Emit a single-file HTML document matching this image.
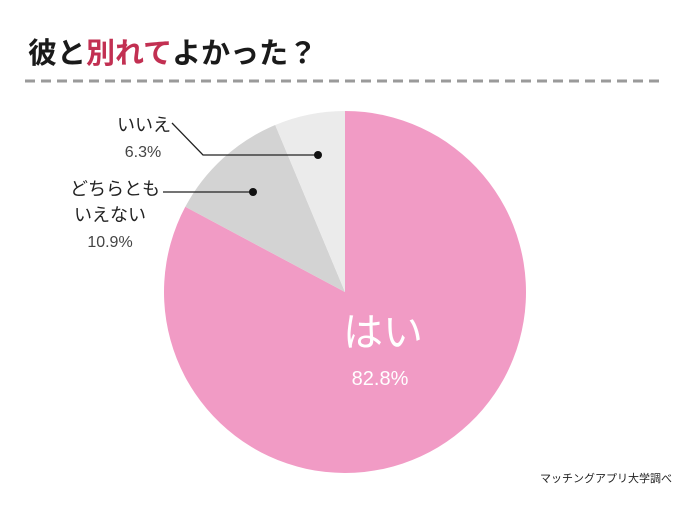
<!DOCTYPE html>
<html><head><meta charset="utf-8"><style>
body{margin:0;background:#fff;}
svg text{font-family:"Liberation Sans","Noto Sans CJK JP",sans-serif;}
</style></head><body>
<svg width="690" height="502" viewBox="0 0 690 502">
<text x="28" y="63" font-size="29" font-weight="bold" fill="#1a1a1a">彼と<tspan fill="#c23052">別れて</tspan>よかった？</text>
<line x1="25" y1="81" x2="665" y2="81" stroke="#9a9a9a" stroke-width="3" stroke-dasharray="10,6"/>
<g id="slices"></g>
<g>
<text x="171" y="131" font-size="18" text-anchor="end" fill="#222">いいえ</text>
<text x="143" y="157" font-size="16" text-anchor="middle" fill="#444">6.3%</text>
<polyline points="172,123 203,155 318,155" fill="none" stroke="#222" stroke-width="1.3"/>
<circle cx="318" cy="155" r="4" fill="#111"/>
</g>
<g>
<text x="160" y="195" font-size="18" text-anchor="end" fill="#222">どちらとも</text>
<text x="110" y="221" font-size="18" text-anchor="middle" fill="#222">いえない</text>
<text x="110" y="247" font-size="16" text-anchor="middle" fill="#444">10.9%</text>
<line x1="163" y1="192" x2="253" y2="192" stroke="#222" stroke-width="1.3"/>
<circle cx="253" cy="192" r="4" fill="#111"/>
</g>
<g>
<text x="383" y="346" font-size="40" text-anchor="middle" fill="#fff">はい</text>
<text x="380" y="385" font-size="20" text-anchor="middle" fill="#fff">82.8%</text>
</g>
<text x="672" y="482" font-size="11" text-anchor="end" fill="#222">マッチングアプリ大学調べ</text>
</svg>
<script>
const categories=["はい","どちらともいえない","いいえ"];
const values=[82.8,10.9,6.3];
const colors=["#f19bc5","#d3d3d3","#ebebeb"];
const cx=345,cy=292,r=181;
const g=document.getElementById('slices');
const total=values.reduce((a,b)=>a+b,0);
let a0=0;
function pt(a){return [cx+r*Math.sin(a),cy-r*Math.cos(a)];}
values.forEach((v,i)=>{
  const a1=a0+v/total*2*Math.PI;
  const p0=pt(a0),p1=pt(a1);
  const large=(a1-a0)>Math.PI?1:0;
  const p=document.createElementNS('http://www.w3.org/2000/svg','path');
  p.setAttribute('d',`M${cx},${cy}L${p0[0]},${p0[1]}A${r},${r} 0 ${large} 1 ${p1[0]},${p1[1]}Z`);
  p.setAttribute('fill',colors[i]);
  
  
  g.appendChild(p);
  a0=a1;
});
</script>
</body></html>
